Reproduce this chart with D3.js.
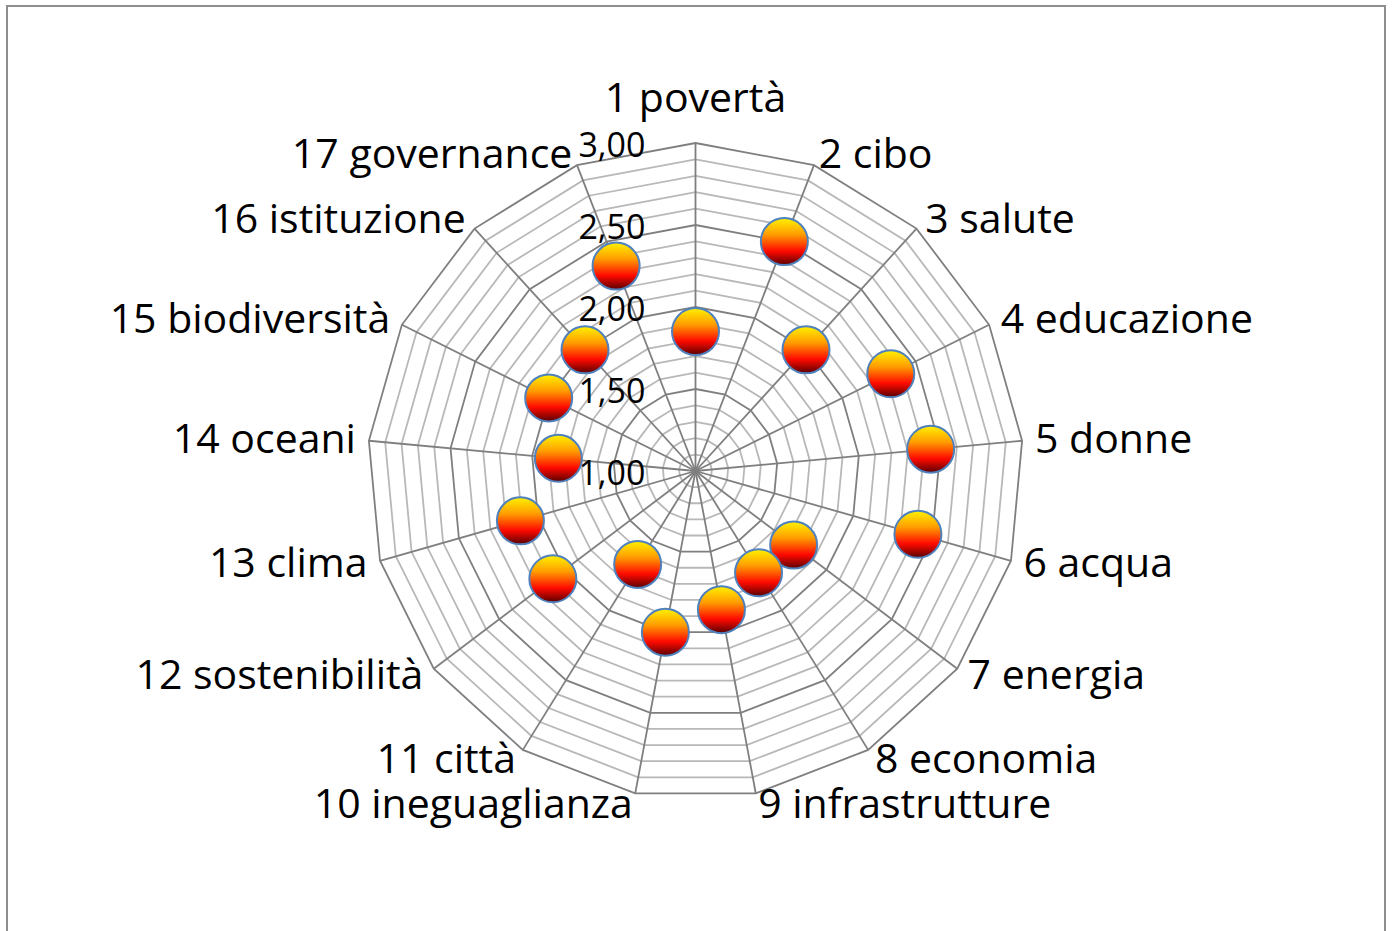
<!DOCTYPE html>
<html>
<head>
<meta charset="utf-8">
<script src="https://cdn.jsdelivr.net/npm/d3@7"></script>
<style>
  html, body { margin: 0; padding: 0; background: #fff; }
  svg { display: block; }
  text { font-family: "Open Sans", "Noto Sans", sans-serif; fill: #000; }
</style>
</head>
<body>
<div id="chart"></div>
<script>
// chart data
var categories = ['1 povertà', '2 cibo', '3 salute', '4 educazione', '5 donne', '6 acqua',
  '7 energia', '8 economia', '9 infrastrutture', '10 ineguaglianza', '11 città',
  '12 sostenibilità', '13 clima', '14 oceani', '15 biodiversità', '16 istituzione',
  '17 governance'];
var values = [1.85, 2.50, 2.00, 2.33, 2.44, 2.41, 1.75, 1.73, 1.86, 2.00, 1.67,
  2.09, 2.11, 1.84, 2.00, 2.00, 2.34];
var majorTicks = [1.0, 1.5, 2.0, 2.5, 3.0];
var minorTicks = d3.range(11, 31).map(function (d) { return d / 10; });

var outerWidth = 1392, outerHeight = 931;
var cx = 695.5, cy = 471, R = 328;

var locale = d3.formatLocale({decimal: ',', thousands: '.', grouping: [3], currency: ['', '€']});
var fmt = locale.format('.2f');

var r = d3.scaleLinear().domain([1, 3]).range([0, R]);
var angle = d3.scaleLinear().domain([0, categories.length]).range([0, 2 * Math.PI]);

var svg = d3.select('#chart').append('svg')
  .attr('width', outerWidth)
  .attr('height', outerHeight);

// frame (bottom edge is outside the picture)
svg.append('rect')
  .attr('x', 7).attr('y', 6)
  .attr('width', 1378).attr('height', 1000)
  .attr('fill', 'none')
  .attr('stroke', '#8e8e8e')
  .attr('stroke-width', 2);

var g = svg.append('g').attr('transform', 'translate(' + cx + ',' + cy + ')');

var px = function (i, v) { return r(v) * Math.sin(angle(i)); };
var py = function (i, v) { return -r(v) * Math.cos(angle(i)); };

var ring = function (v) {
  return d3.range(categories.length).map(function (i) { return [px(i, v), py(i, v)]; });
};
var ringLine = d3.line().curve(d3.curveLinearClosed);

// minor rings
g.selectAll('path.minor')
  .data(minorTicks.filter(function (d) { return Math.round(d * 10) % 5 !== 0; }))
  .enter().append('path')
  .attr('class', 'minor')
  .attr('d', function (d) { return ringLine(ring(d)); })
  .attr('fill', 'none')
  .attr('stroke', '#b8b8b8')
  .attr('stroke-width', 1.8);

// major rings
g.selectAll('path.major')
  .data(majorTicks.filter(function (d) { return d > 1; }))
  .enter().append('path')
  .attr('class', 'major')
  .attr('d', function (d) { return ringLine(ring(d)); })
  .attr('fill', 'none')
  .attr('stroke', '#7f7f7f')
  .attr('stroke-width', 1.8);

// spokes
g.selectAll('line.spoke')
  .data(categories)
  .enter().append('line')
  .attr('class', 'spoke')
  .attr('x1', 0).attr('y1', 0)
  .attr('x2', function (d, i) { return px(i, 3); })
  .attr('y2', function (d, i) { return py(i, 3); })
  .attr('stroke', '#7f7f7f')
  .attr('stroke-width', 1.8);

// radial tick labels
g.selectAll('text.tick')
  .data(majorTicks)
  .enter().append('text')
  .attr('class', 'tick')
  .attr('x', -50)
  .attr('y', function (d) { return -r(d) + 14; })
  .attr('text-anchor', 'end')
  .style('font-size', '34px')
  .text(function (d) { return fmt(d); });

// category labels
var fs = 41;
g.selectAll('text.cat')
  .data(categories)
  .enter().append('text')
  .attr('class', 'cat')
  .style('font-size', fs + 'px')
  .attr('text-anchor', function (d, i) {
    var s = Math.sin(angle(i));
    return Math.abs(s) < 0.05 ? 'middle' : (s > 0 ? 'start' : 'end');
  })
  .attr('x', function (d, i) { return px(i, 3) + 13 * Math.sin(angle(i)); })
  .attr('y', function (d, i) {
    var c = Math.cos(angle(i));
    if (Math.abs(Math.sin(angle(i))) < 0.05) return py(i, 3) - 31.5;
    return py(i, 3) - 1.5 - 11.5 * c + 0.36 * fs;
  })
  .text(function (d) { return d; });

// marker gradient
var grad = svg.append('defs').append('linearGradient')
  .attr('id', 'ball')
  .attr('x1', 0).attr('y1', 0).attr('x2', 0).attr('y2', 1);
grad.append('stop').attr('offset', '0%').attr('stop-color', '#fff200');
grad.append('stop').attr('offset', '35%').attr('stop-color', '#ff9c00');
grad.append('stop').attr('offset', '70%').attr('stop-color', '#ff0a00');
grad.append('stop').attr('offset', '100%').attr('stop-color', '#580000');

g.selectAll('circle.pt')
  .data(values)
  .enter().append('circle')
  .attr('class', 'pt')
  .attr('cx', function (d, i) { return px(i, d); })
  .attr('cy', function (d, i) { return py(i, d); })
  .attr('r', 23.5)
  .attr('fill', 'url(#ball)')
  .attr('stroke', '#4f81bd')
  .attr('stroke-width', 2);
</script>
</body>
</html>
